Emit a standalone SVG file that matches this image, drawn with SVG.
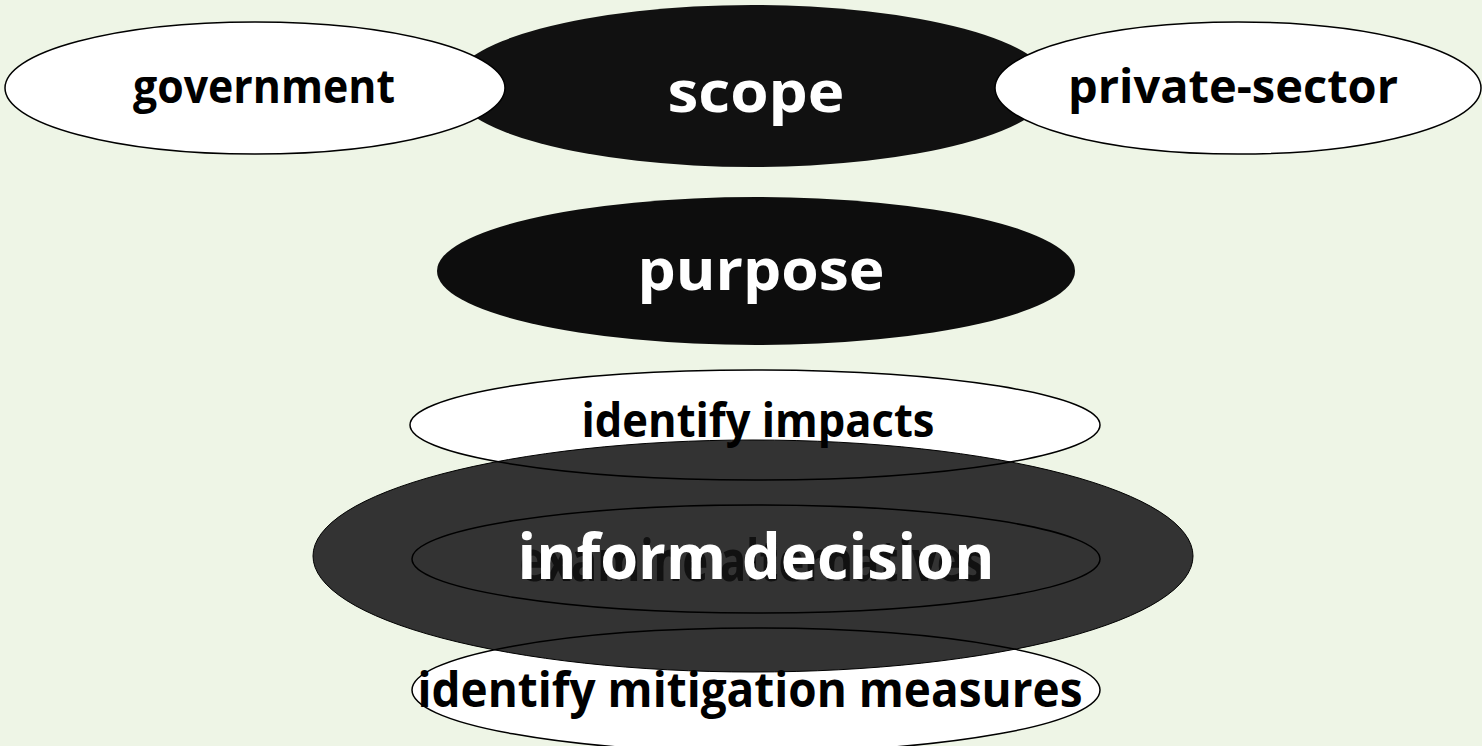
<svg xmlns="http://www.w3.org/2000/svg" width="1482" height="746" viewBox="0 0 1482 746">
<style>
.w{fill:#ffffff;stroke:none}
.o{fill:none;stroke:#000;stroke-width:1.5}
.t{font-family:"Open Sans","Noto Sans","Liberation Sans",sans-serif;font-weight:bold;text-anchor:middle}
.bk{fill:#000}
.wh{fill:#fff}
</style>
<rect width="1482" height="746" fill="#EEF5E6"/>
<g id="scope">
<ellipse cx="752" cy="86" rx="300" ry="81" fill="#111"/>
</g>
<g id="government">
<ellipse cx="255" cy="88" rx="250" ry="66" fill="#fff" stroke="#000" stroke-width="1.5"/>
<text class="t bk" x="264" y="103" font-size="47" textLength="262" lengthAdjust="spacingAndGlyphs">government</text>
</g>
<g id="private-sector">
<ellipse cx="1238" cy="88" rx="243" ry="66" fill="#fff" stroke="#000" stroke-width="1.5"/>
<text class="t bk" x="1233" y="103" font-size="47" textLength="330" lengthAdjust="spacingAndGlyphs">private-sector</text>
</g>
<text class="t wh" x="756" y="112" font-size="58" textLength="177" lengthAdjust="spacingAndGlyphs">scope</text>
<g id="purpose">
<ellipse cx="756" cy="271" rx="319" ry="74" fill="#0d0d0d"/>
<text class="t wh" x="761" y="290" font-size="58" textLength="247" lengthAdjust="spacingAndGlyphs">purpose</text>
</g>
<g id="under">
<ellipse class="w" cx="755" cy="425" rx="345" ry="55"/>
<ellipse class="w" cx="756" cy="690" rx="344" ry="62"/>
</g>
<g id="inform-decision">
<ellipse cx="753" cy="556" rx="440" ry="116" fill="#333" stroke="#000" stroke-width="1"/>
</g>
<g id="examine-alternatives">
<ellipse cx="756" cy="559" rx="344" ry="54" fill="#333" stroke="#000" stroke-width="1.5"/>
<text class="t" x="752" y="581" font-size="58" fill="#111" textLength="465" lengthAdjust="spacingAndGlyphs">examine alternatives</text>
</g>
<text class="t wh" x="756" y="579" font-size="62" textLength="477" lengthAdjust="spacingAndGlyphs">inform decision</text>
<g id="identify-impacts">
<ellipse class="o" cx="755" cy="425" rx="345" ry="55"/>
<text class="t bk" x="758" y="437" font-size="47" textLength="353" lengthAdjust="spacingAndGlyphs">identify impacts</text>
</g>
<g id="identify-mitigation-measures">
<ellipse class="o" cx="756" cy="690" rx="344" ry="62"/>
<text class="t bk" x="750" y="707" font-size="48" textLength="665" lengthAdjust="spacingAndGlyphs">identify mitigation measures</text>
</g>
<g id="connectors"/>
</svg>
